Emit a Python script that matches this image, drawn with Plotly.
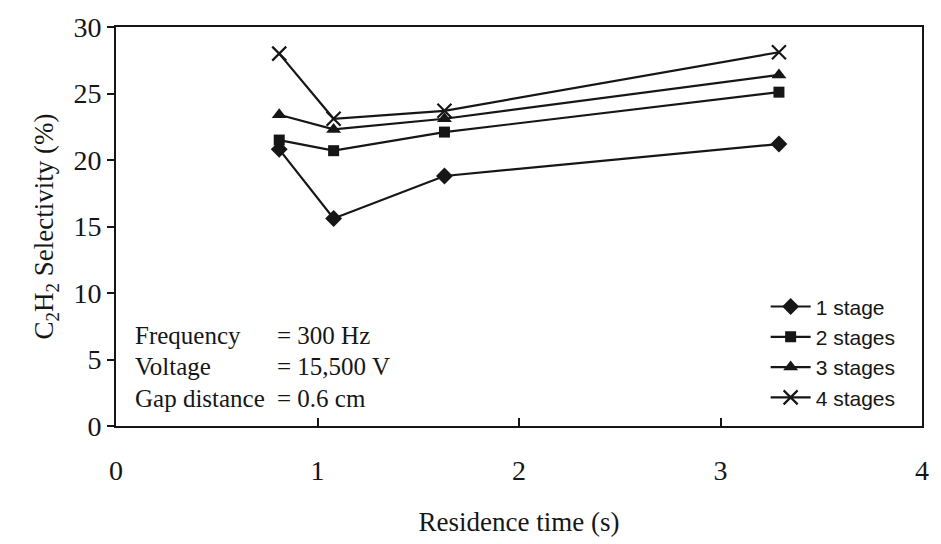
import plotly.graph_objects as go

# Residence time (s) for each measurement
residence_time = [0.81, 1.08, 1.63, 3.29]

# C2H2 selectivity (%) for each number of plasma stages
sel_1_stage = [20.8, 15.6, 18.8, 21.2]
sel_2_stages = [21.5, 20.7, 22.1, 25.1]
sel_3_stages = [23.4, 22.3, 23.1, 26.4]
sel_4_stages = [28.0, 23.1, 23.7, 28.1]

series_names = ["1 stage", "2 stages", "3 stages", "4 stages"]
series_values = [sel_1_stage, sel_2_stages, sel_3_stages, sel_4_stages]
series_symbols = ["diamond", "square", "triangle-up", "x-thin-open"]
series_sizes = [13, 11, 13, 14]

x_ticks = [0, 1, 2, 3, 4]
y_ticks = [0, 5, 10, 15, 20, 25, 30]

condition_labels = ["Frequency", "Voltage", "Gap distance"]
condition_values = ["= 300 Hz", "= 15,500 V", "= 0.6 cm"]

ink = "#161616"
serif = "Liberation Serif"

fig = go.Figure()
for name, vals, sym, sz in zip(series_names, series_values, series_symbols, series_sizes):
    fig.add_trace(go.Scatter(
        x=residence_time, y=vals, name=name, mode="lines+markers",
        line=dict(color=ink, width=2.2),
        marker=dict(symbol=sym, size=sz, color=ink,
                    line=dict(color=ink, width=2.2 if sym.startswith("x") else 0)),
    ))

# Operating conditions block
row_y = [0.228, 0.150, 0.070]
for lab, val, yy in zip(condition_labels, condition_values, row_y):
    fig.add_annotation(x=0.021, y=yy, xref="paper", yref="paper", text=lab,
                       showarrow=False, xanchor="left", yanchor="middle",
                       font=dict(family=serif, size=25, color=ink))
    fig.add_annotation(x=0.197, y=yy, xref="paper", yref="paper", text=val,
                       showarrow=False, xanchor="left", yanchor="middle",
                       font=dict(family=serif, size=25, color=ink))

fig.update_layout(
    width=941, height=544,
    margin=dict(l=116, r=12, t=25, b=116),
    paper_bgcolor="white", plot_bgcolor="white",
    showlegend=True,
    legend=dict(x=0.806, y=0.35, xanchor="left", yanchor="top",
                bgcolor="rgba(0,0,0,0)", borderwidth=0,
                font=dict(family="Liberation Sans", size=21, color=ink),
                tracegroupgap=0, itemwidth=40),
    font=dict(family=serif, color=ink),
)

fig.update_xaxes(
    range=[0, 4], tickvals=x_ticks, ticktext=[str(t) for t in x_ticks],
    showgrid=False, zeroline=False,
    showline=True, linecolor=ink, linewidth=2, mirror=True,
    ticks="inside", ticklen=8, tickwidth=1.5, tickcolor=ink,
    tickfont=dict(family=serif, size=28, color=ink),
    ticklabelstandoff=18,
    title=dict(text="Residence time (s)", font=dict(family=serif, size=27, color=ink),
               standoff=28),
)
fig.update_yaxes(
    range=[0, 30], tickvals=y_ticks, ticktext=[str(t) for t in y_ticks],
    showgrid=False, zeroline=False,
    showline=True, linecolor=ink, linewidth=2, mirror=True,
    ticks="outside", ticklen=7, tickwidth=1.5, tickcolor=ink,
    tickfont=dict(family=serif, size=28, color=ink),
    title=dict(text="C<sub>2</sub>H<sub>2</sub> Selectivity (%)",
               font=dict(family=serif, size=27, color=ink), standoff=12),
)

fig.write_html("out.html")
